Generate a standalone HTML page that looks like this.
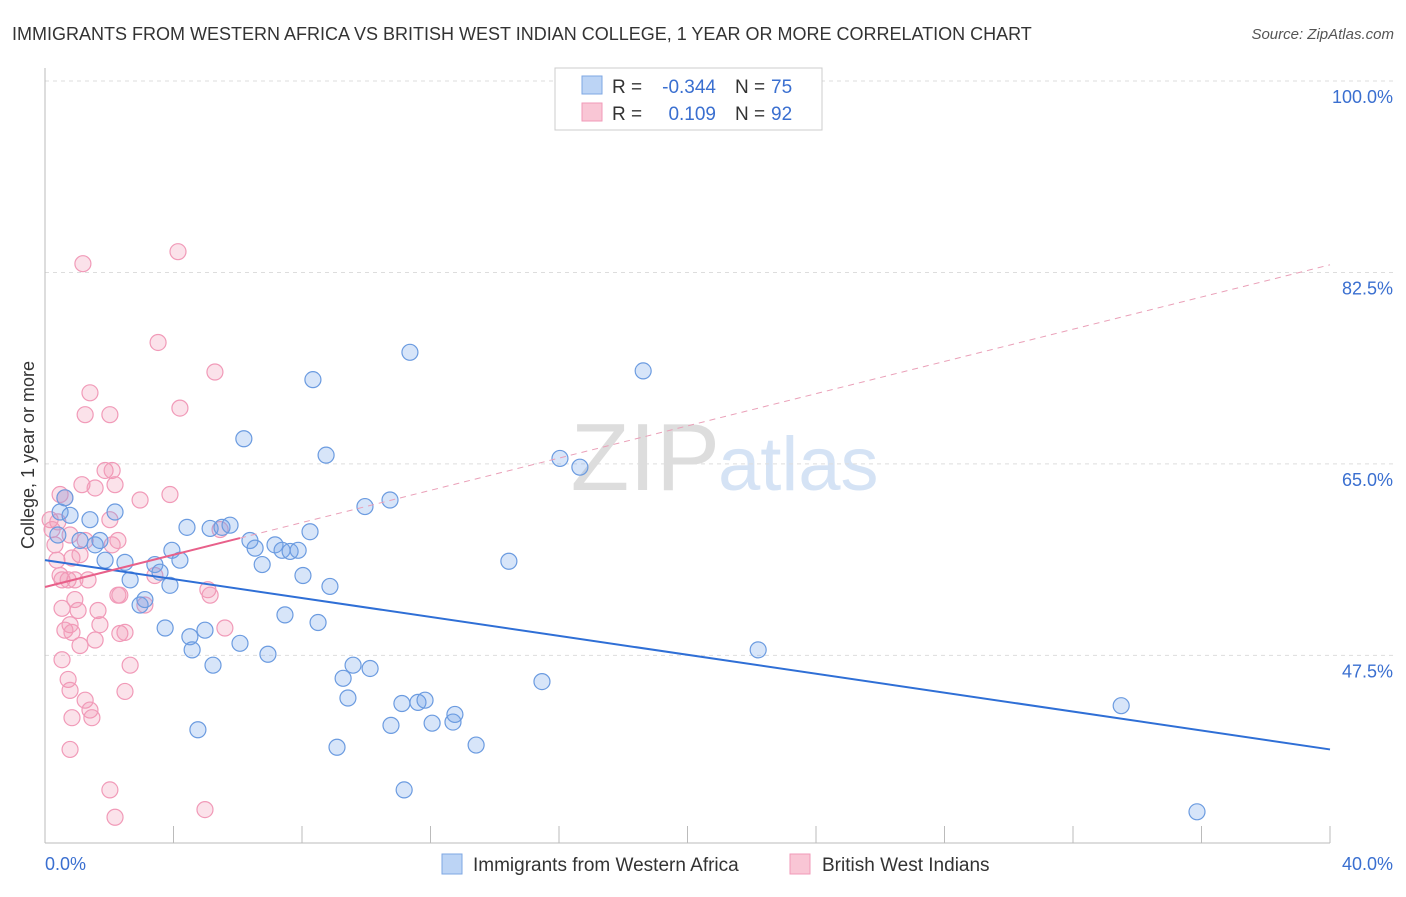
<!DOCTYPE html>
<html><head><meta charset="utf-8"><style>
body{margin:0;background:#fff;font-family:"Liberation Sans",sans-serif;}
svg text{font-family:"Liberation Sans",sans-serif;}
</style></head><body>
<svg id="c" width="1406" height="892">
<text x="12" y="40" font-size="18" fill="#333">IMMIGRANTS FROM WESTERN AFRICA VS BRITISH WEST INDIAN COLLEGE, 1 YEAR OR MORE CORRELATION CHART</text>
<text x="1394" y="39" font-size="15" fill="#555" font-style="italic" text-anchor="end">Source: ZipAtlas.com</text>
<text x="720" y="490" font-size="96" fill="#ddd" font-family="Liberation Serif" text-anchor="end">ZIP</text>
<text x="718" y="490" font-size="76" fill="#d5e3f5">atlas</text>
<text transform="translate(34,455) rotate(-90)" font-size="18" fill="#333" text-anchor="middle">College, 1 year or more</text>
<g id="grid"></g><g id="pts"></g><g id="trend"></g>
<g>
<rect x="555" y="68" width="267" height="62" fill="#fff" stroke="#ccc"/>
<rect x="582" y="76" width="20" height="18" fill="#bcd4f5" stroke="#7ea7e3"/>
<rect x="582" y="103" width="20" height="18" fill="#f9c6d5" stroke="#f19ab8"/>
<text x="612" y="93" font-size="19" fill="#333">R =</text>
<text x="716" y="93" font-size="19" fill="#3a6fd0" text-anchor="end">-0.344</text>
<text x="735" y="93" font-size="19" fill="#333">N =</text>
<text x="771" y="93" font-size="19" fill="#3a6fd0">75</text>
<text x="612" y="120" font-size="19" fill="#333">R =</text>
<text x="716" y="120" font-size="19" fill="#3a6fd0" text-anchor="end">0.109</text>
<text x="735" y="120" font-size="19" fill="#333">N =</text>
<text x="771" y="120" font-size="19" fill="#3a6fd0">92</text>
</g>
<g>
<rect x="442" y="854" width="20" height="20" fill="#bcd4f5" stroke="#7ea7e3"/>
<text x="473" y="871" font-size="19" fill="#333">Immigrants from Western Africa</text>
<rect x="790" y="854" width="20" height="20" fill="#f9c6d5" stroke="#f19ab8"/>
<text x="822" y="871" font-size="19" fill="#333">British West Indians</text>
</g>
</svg>
<script>
const yTicks=[100,82.5,65,47.5];
const xTickLabels=["0.0%","40.0%"];
const blueX=[0.47,0.40,0.62,0.78,1.09,1.40,1.56,1.71,1.87,2.18,2.49,2.65,2.96,3.11,3.42,3.58,3.89,3.95,4.20,3.74,4.51,4.42,4.58,4.76,4.98,5.14,5.23,5.51,5.76,6.07,6.19,6.38,6.54,6.76,6.94,7.16,7.38,7.63,7.88,7.47,8.03,8.25,8.34,8.50,8.75,8.87,9.09,9.28,9.43,9.59,9.96,10.12,10.74,10.77,11.18,11.11,11.36,11.61,11.83,12.05,12.70,12.76,13.42,14.44,15.47,16.03,16.65,18.62,22.20,33.50,35.86];
const blueY=[60.6,58.5,61.9,60.3,58.0,59.9,57.6,58.0,56.2,60.6,56.0,54.4,52.1,52.6,55.8,55.1,53.9,57.1,56.2,50.0,49.2,59.2,48.0,40.7,49.8,59.1,46.6,59.2,59.4,48.6,67.3,58.0,57.3,55.8,47.6,57.6,57.1,57.0,57.1,51.2,54.8,58.8,72.7,50.5,65.8,53.8,39.1,45.4,43.6,46.6,61.1,46.3,61.7,41.1,35.2,43.1,75.2,43.2,43.4,41.3,41.4,42.1,39.3,56.1,45.1,65.5,64.7,73.5,48.0,42.9,33.2];
const pinkX=[0.16,0.22,0.31,0.37,0.47,0.53,0.40,0.62,0.47,0.78,0.84,0.72,0.93,0.53,0.78,0.62,0.84,1.03,1.09,0.53,0.72,0.78,0.84,0.78,0.93,1.09,1.15,1.25,1.34,1.25,1.40,1.46,1.40,1.25,1.18,1.56,1.56,1.65,1.71,1.87,2.02,2.09,2.18,2.02,2.09,2.27,2.27,2.33,2.49,2.49,2.65,2.02,2.18,2.33,2.96,3.11,3.42,3.52,3.89,4.14,4.20,4.98,5.07,5.14,5.29,5.60,5.45];
const pinkY=[59.9,59.0,57.6,56.2,54.8,54.4,59.7,61.9,62.2,58.5,56.4,54.4,52.6,51.8,50.3,49.8,49.6,51.6,48.4,47.1,45.3,44.3,41.8,38.9,54.4,56.7,63.1,58.0,54.4,43.4,42.5,41.8,71.5,69.5,83.3,62.8,48.9,51.6,50.3,64.4,69.5,64.4,63.1,59.9,57.6,58.0,53.0,49.5,49.6,44.2,46.6,35.2,32.7,53.0,61.7,52.1,54.8,76.1,62.2,84.4,70.1,33.4,53.5,53.0,73.4,50.0,59.0];
const blueTrend=[56.2,38.9];
const pinkTrend=[53.75,83.2];
const pinkSolidEnd=6.07;
const NS="http://www.w3.org/2000/svg";
const sx=v=>45+v/40*1285;
const sy=v=>81+(100-v)*10.94;
function mk(t,a,p){const e=document.createElementNS(NS,t);for(const k in a)e.setAttribute(k,a[k]);p.appendChild(e);return e;}
const grid=document.getElementById('grid');
yTicks.forEach(v=>{
 const l=mk('line',{x1:45,x2:1395,y1:sy(v),y2:sy(v),stroke:'#ddd','stroke-dasharray':'4,4'},grid);
 
 
 const t=mk('text',{x:1393,y:sy(v)+22,'font-size':18,fill:'#3a6fd0','text-anchor':'end'},grid);
 t.textContent=v.toFixed(1)+'%';
 
 
});
mk('line',{x1:45,x2:45,y1:68,y2:843,stroke:'#bbb'},grid);
mk('line',{x1:45,x2:1330,y1:843,y2:843,stroke:'#bbb'},grid);
for(let i=0;i<=10;i++){const l=mk('line',{x1:sx(i*4),x2:sx(i*4),y1:826,y2:843,stroke:'#bbb'},grid);
 
 }
[[45,'start',0],[1393,'end',1]].forEach(([x,a,i])=>{const t=mk('text',{x:x,y:870,'font-size':18,fill:'#3a6fd0','text-anchor':a},grid);t.textContent=xTickLabels[i];
 
 });
const pts=document.getElementById('pts');
pinkX.forEach((x,i)=>{const c=mk('circle',{cx:sx(x),cy:sy(pinkY[i]),r:8,fill:'rgba(242,150,180,0.28)',stroke:'#f19ab8','stroke-width':1.2},pts);
 
 });
blueX.forEach((x,i)=>{const c=mk('circle',{cx:sx(x),cy:sy(blueY[i]),r:8,fill:'rgba(110,160,235,0.28)',stroke:'#6b9be0','stroke-width':1.2},pts);
 
 });
const tr=document.getElementById('trend');
const bl=mk('line',{x1:sx(0),y1:sy(blueTrend[0]),x2:sx(40),y2:sy(blueTrend[1]),stroke:'#2f6fd6','stroke-width':2},tr);


const pAt=x=>pinkTrend[0]+(pinkTrend[1]-pinkTrend[0])*x/40;
const pd=mk('line',{x1:sx(pinkSolidEnd),y1:sy(pAt(pinkSolidEnd)),x2:sx(40),y2:sy(pinkTrend[1]),stroke:'#eaa0b8','stroke-width':1,'stroke-dasharray':'6,5'},tr);


const ps=mk('line',{x1:sx(0),y1:sy(pinkTrend[0]),x2:sx(pinkSolidEnd),y2:sy(pAt(pinkSolidEnd)),stroke:'#e8608a','stroke-width':2},tr);


</script>
</body></html>
